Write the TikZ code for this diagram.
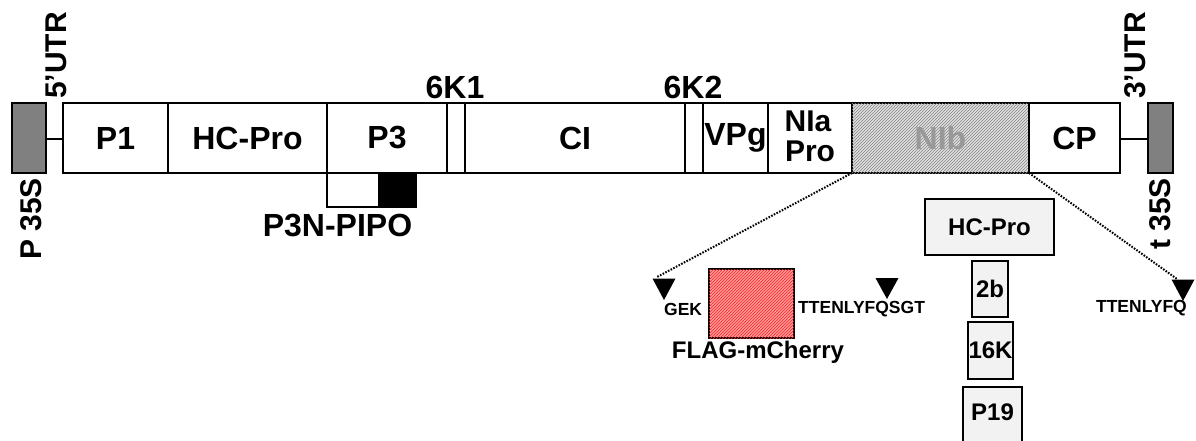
\documentclass[tikz,border=0pt]{standalone}
\usepackage{fontspec}
\setmainfont{Liberation Sans}
\usetikzlibrary{patterns}

\begin{document}
\begin{tikzpicture}[x=1pt,y=-1pt,
  big/.style={font=\bfseries\fontsize{32}{28}\selectfont},
  side/.style={font=\bfseries\fontsize{30}{30}\selectfont},
  mid/.style={font=\bfseries\fontsize{24}{24}\selectfont},
  small/.style={font=\bfseries\fontsize{17.5}{17.5}\selectfont},
  seg/.style={draw, line width=2.2pt, fill=white, minimum height=70pt,
    inner sep=0pt, outer sep=0pt, big, align=center},
  cassette/.style={draw, line width=2.2pt, fill=black!50, minimum height=70pt,
    inner sep=0pt, outer sep=0pt},
  stipple/.style={draw, line width=2.2pt, fill=black!5, inner sep=0pt,
    outer sep=0pt, mid},
  link/.style={line width=2.2pt},
  zoomline/.style={line width=2pt, dash pattern=on 1.6pt off 1.4pt},
  tipmark/.style={fill=black}
]
\clip (0,0) rectangle (1196,440);
\fill[white] (0,0) rectangle (1196,440);

% promoter and terminator cassettes
\node[cassette, minimum width=34pt] (p35s) at (29,138) {};
\node[cassette, minimum width=25pt] (t35s) at (1160.5,138) {};

% polyprotein segments
\node[seg, minimum width=105pt] (p1)    at (115.5,138) {P1};
\node[seg, minimum width=159pt] (hcpro) at (247.5,138) {HC-Pro};
\node[seg, minimum width=120pt] (p3)    at (387,138)   {P3};
\node[seg, minimum width=18pt]  (k61)   at (456,138)   {};
\node[seg, minimum width=220pt] (ci)    at (575,138)   {CI};
\node[seg, minimum width=18pt]  (k62)   at (694,138)   {};
\node[seg, minimum width=65pt]  (vpg)   at (735.5,138) {VPg};
\node[seg, minimum width=84pt]  (nia)   at (810,138)   {};
\node[side, inner sep=0pt, anchor=base, text height=21pt, text depth=0pt]
  (nia1) at (808,131) {NIa};
\node[side, inner sep=0pt, anchor=base, text height=21pt, text depth=0pt]
  (nia2) at (810,161) {Pro};
\node[seg, minimum width=177pt, fill=black!12, text=black!40,
  postaction={pattern=north east lines, pattern color=black!48}]
                                (nib)   at (940.5,138) {NIb};
\node[seg, minimum width=91pt]  (cp)    at (1074.5,138) {CP};

% UTR links
\draw[link] (p35s.east |- 0,139) -- (p1.west |- 0,139);
\draw[link] (cp.east |- 0,139) -- (t35s.west |- 0,139);

% rotated labels
\node[side, rotate=90, anchor=west, inner sep=0pt] (utr5) at (56,99) {5’UTR};
\node[side, rotate=90, anchor=west, inner sep=0pt] (utr3) at (1135,99) {3’UTR};
\node[side, rotate=90, anchor=east, inner sep=0pt] (lp35s) at (31,178) {P 35S};
\node[side, rotate=90, anchor=east, inner sep=0pt] (lt35s) at (1160,178) {t 35S};

% small peptide labels
\node[big, anchor=base, inner sep=0pt] (l6k1) at (455,98) {6K1};
\node[big, anchor=base, inner sep=0pt] (l6k2) at (693,98) {6K2};

% P3N-PIPO frame
\node[draw, line width=2.2pt, fill=white, minimum width=89pt, minimum height=34pt,
  inner sep=0pt, outer sep=0pt] (pipo) at (371.5,190) {};
\node[draw, line width=2.2pt, fill=black, minimum width=37pt, minimum height=34pt,
  inner sep=0pt, outer sep=0pt] (pipoend) at (397.5,190) {};
\node[big, anchor=base, inner sep=0pt] (lpipo) at (337.5,236) {P3N-PIPO};

% zoom-in lines from NIb
\coordinate (zl) at (657,277);
\coordinate (zr) at (1177,279);
\draw[zoomline] (nib.south west) -- (zl);
\draw[zoomline] (nib.south east) -- (zr);

% cleavage site markers
\coordinate (tri1) at (664,300);
\coordinate (tri2) at (887,299);
\coordinate (tri3) at (1183,301);
\fill[tipmark] (tri1) -- ++(-11.5,-21.5) -- ++(23,0) -- cycle;
\fill[tipmark] (tri2) -- ++(-11.5,-21) -- ++(23,0) -- cycle;
\fill[tipmark] (tri3) -- ++(-11.5,-21.5) -- ++(23,0) -- cycle;

% inserted reporter
\node[small, anchor=west, inner sep=0pt] (gek) at (664,309) {GEK};
\node[draw, line width=2.2pt, fill=red!40, minimum width=85pt, minimum height=69pt,
  inner sep=0pt, outer sep=0pt,
  postaction={pattern=north east lines, pattern color=red!85}]
  (mcherry) at (751.5,303.5) {};
\node[small, anchor=west, inner sep=0pt] (site1) at (798,309) {TTENLYFQSGT};
\node[mid, inner sep=0pt] (lflag) at (758,352) {FLAG-mCherry};
\node[small, anchor=east, inner sep=0pt] (site2) at (1187,308) {TTENLYFQ};

% silencing suppressors
\node[stipple, minimum width=129pt, minimum height=56pt] (shc) at (989.5,227) {HC-Pro};
\node[stipple, minimum width=36pt, minimum height=56pt] (s2b) at (990,289) {2b};
\node[stipple, minimum width=45pt, minimum height=57pt] (s16k) at (990.5,350.5) {16K};
\node[stipple, minimum width=59pt, minimum height=66pt] (sp19) at (992.5,420) {};
\node[mid, inner sep=0pt] (lp19) at (992.5,412) {P19};
\end{tikzpicture}
\end{document}
